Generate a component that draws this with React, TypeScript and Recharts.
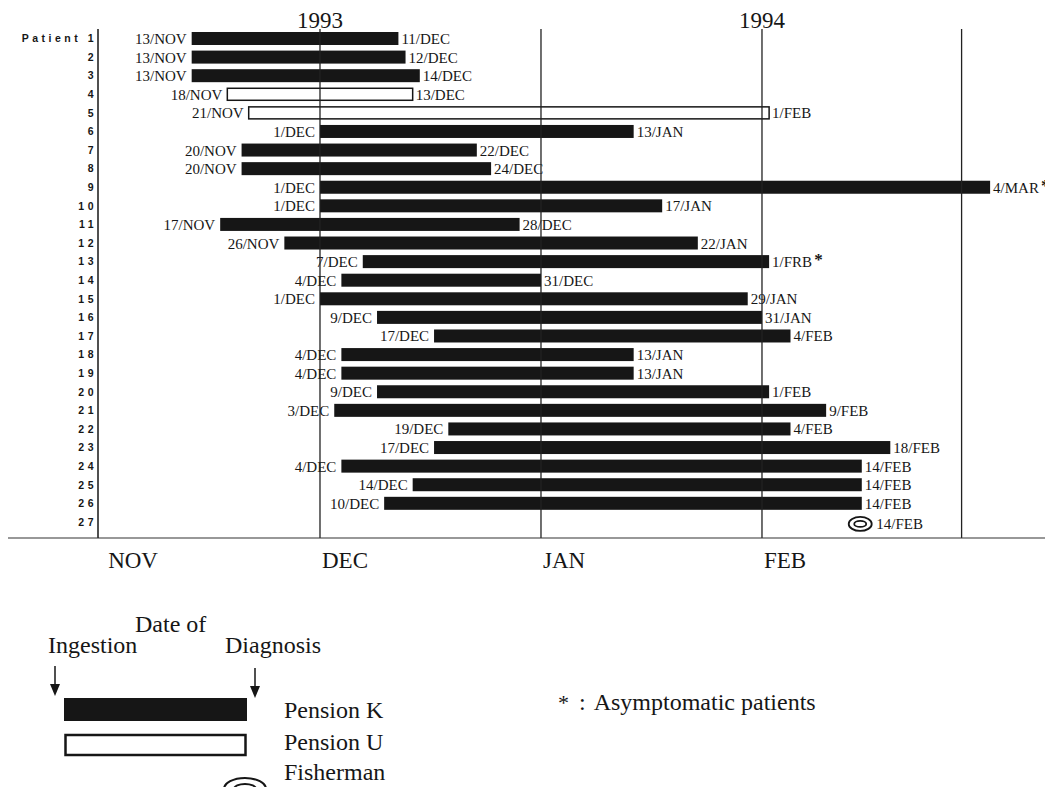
import React from 'react'
import { ComposedChart, Bar, XAxis, YAxis, ReferenceLine } from 'recharts'

// one entry per patient, top to bottom
const patientLabels = [
  'Patient 1', '2', '3', '4', '5', '6', '7', '8', '9', '10', '11', '12', '13', '14',
  '15', '16', '17', '18', '19', '20', '21', '22', '23', '24', '25', '26', '27',
]
const ingestionDates = [
  '13/NOV', '13/NOV', '13/NOV', '18/NOV', '21/NOV', '1/DEC', '20/NOV', '20/NOV', '1/DEC',
  '1/DEC', '17/NOV', '26/NOV', '7/DEC', '4/DEC', '1/DEC', '9/DEC', '17/DEC', '4/DEC',
  '4/DEC', '9/DEC', '3/DEC', '19/DEC', '17/DEC', '4/DEC', '14/DEC', '10/DEC', '14/FEB',
]
// printed as in the figure ("1/FRB" is a misprint for 1/FEB)
const diagnosisDates = [
  '11/DEC', '12/DEC', '14/DEC', '13/DEC', '1/FEB', '13/JAN', '22/DEC', '24/DEC', '4/MAR',
  '17/JAN', '28/DEC', '22/JAN', '1/FRB', '31/DEC', '29/JAN', '31/JAN', '4/FEB', '13/JAN',
  '13/JAN', '1/FEB', '9/FEB', '4/FEB', '18/FEB', '14/FEB', '14/FEB', '14/FEB', '14/FEB',
]
// K = Pension K, U = Pension U, F = Fisherman
const sources = [
  'K', 'K', 'K', 'U', 'U', 'K', 'K', 'K', 'K', 'K', 'K', 'K', 'K', 'K',
  'K', 'K', 'K', 'K', 'K', 'K', 'K', 'K', 'K', 'K', 'K', 'K', 'F',
]
const asymptomaticPatients = [9, 13]

const monthNames = ['NOV', 'DEC', 'JAN', 'FEB']
const monthStarts = ['1/NOV', '1/DEC', '1/JAN', '1/FEB', '1/MAR']
const yearLabels = ['1993', '1994']
const yearTickDates = ['1/DEC', '1/FEB']

// days counted from 1 Nov 1993
const monthOffset: Record<string, number> = { NOV: 0, DEC: 30, JAN: 61, FEB: 92, FRB: 92, MAR: 120 }
const dayIndex = (s: string) => {
  const [d, m] = s.split('/')
  return monthOffset[m] + Number(d) - 1
}

const data = patientLabels.map((patient, i) => ({
  patient,
  source: sources[i],
  start: ingestionDates[i],
  end: diagnosisDates[i],
  asym: asymptomaticPatients.includes(i + 1),
  range: [dayIndex(ingestionDates[i]), dayIndex(diagnosisDates[i]) + 1],
}))

const yearTicks = yearTickDates.map(dayIndex)
const monthTicks = monthStarts.map(dayIndex)

const serif = '"Liberation Serif", "Times New Roman", serif'
const ink = '#161616'

function PatientShape(props: any) {
  const { x, y, width, height, payload } = props
  const cy = y + height / 2
  const right = x + width
  const label = { fontFamily: serif, fontSize: 15, fill: ink }
  if (payload.source === 'F') {
    const cx = x + width / 2 + 2
    return (
      <g>
        <ellipse cx={cx} cy={cy + 2} rx={11.5} ry={7} fill="none" stroke={ink} strokeWidth={1.8} />
        <ellipse cx={cx} cy={cy + 2} rx={6} ry={3} fill="none" stroke={ink} strokeWidth={1.8} />
        <text x={cx + 16} y={cy + 7} {...label}>{payload.end}</text>
      </g>
    )
  }
  return (
    <g>
      {payload.source === 'K' ? (
        <rect x={x} y={y} width={width} height={height} fill={ink} />
      ) : (
        <rect x={x} y={y + 0.5} width={width} height={height - 1} fill="none" stroke={ink} strokeWidth={1.5} />
      )}
      <text x={x - 5} y={cy + 5.5} textAnchor="end" {...label}>{payload.start}</text>
      <text x={right + 3} y={cy + 5.5} {...label}>
        {payload.end}
        {payload.asym && (
          <tspan fontSize={17} fontWeight="bold" dx={2} dy={-2}>*</tspan>
        )}
      </text>
    </g>
  )
}

function PatientTick({ x, y, payload }: any) {
  return (
    <text
      x={x - 1}
      y={y + 4}
      textAnchor="end"
      fontFamily='"Liberation Sans", Arial, sans-serif'
      fontWeight="bold"
      fontSize={10.5}
      letterSpacing={3.5}
      fill={ink}
    >
      {payload.value}
    </text>
  )
}

function MonthTick({ x, y, index }: any) {
  if (index >= monthNames.length) return null
  return (
    <text x={x + 2} y={y + 30} fontFamily={serif} fontSize={23} fill={ink}>
      {monthNames[index]}
    </text>
  )
}

function YearTick({ x, y, index }: any) {
  return (
    <text x={x} y={y - 1} textAnchor="middle" fontFamily={serif} fontSize={23} fill={ink}>
      {yearLabels[index]}
    </text>
  )
}

function LegendOverlay() {
  const t = { fontFamily: serif, fontSize: 24, fill: ink }
  return (
    <svg
      width={1055}
      height={787}
      style={{ position: 'absolute', left: 0, top: 0, pointerEvents: 'none' }}
    >
      {/* base line continues left of the patient axis */}
      <line x1={8} y1={538} x2={98} y2={538} stroke="#333" strokeWidth={1.2} />

      <text x={135} y={632} {...t}>Date of</text>
      <text x={48} y={653} {...t}>Ingestion</text>
      <text x={225} y={653} {...t}>Diagnosis</text>

      <line x1={55} y1={666} x2={55} y2={688} stroke={ink} strokeWidth={1.5} />
      <polygon points="50,684 60,684 55,696" fill={ink} />
      <line x1={255} y1={668} x2={255} y2={690} stroke={ink} strokeWidth={1.5} />
      <polygon points="250,686 260,686 255,698" fill={ink} />

      <rect x={64} y={698} width={183} height={23} fill={ink} />
      <rect x={65.5} y={735} width={180} height={20} fill="#fff" stroke={ink} strokeWidth={2.5} />
      <ellipse cx={245} cy={789} rx={21} ry={11} fill="none" stroke={ink} strokeWidth={2} />
      <ellipse cx={245} cy={789} rx={11} ry={5} fill="none" stroke={ink} strokeWidth={2} />

      <text x={284} y={718} {...t}>Pension K</text>
      <text x={284} y={750} {...t}>Pension U</text>
      <text x={284} y={780} {...t}>Fisherman</text>

      <text x={558} y={710} {...t}>
        <tspan fontSize={22}>*</tspan>
        <tspan dx={10}>:</tspan>
        <tspan dx={8}>Asymptomatic patients</tspan>
      </text>
    </svg>
  )
}

export default function App() {
  return (
    <div style={{ position: 'absolute', left: 0, top: 0, width: 1055, height: 787, background: '#fff' }}>
      <ComposedChart
        width={1055}
        height={578}
        data={data}
        layout="vertical"
        margin={{ top: 0, right: 10, bottom: 0, left: 8 }}
        barSize={13}
      >
        <XAxis
          type="number"
          domain={[-1.14, 131.7]}
          allowDataOverflow
          ticks={monthTicks}
          tick={<MonthTick />}
          tickLine={false}
          tickSize={0}
          tickMargin={0}
          height={40}
          axisLine={{ stroke: '#333', strokeWidth: 1.2 }}
          interval={0}
        />
        <XAxis
          xAxisId="year"
          orientation="top"
          type="number"
          domain={[-1.14, 131.7]}
          allowDataOverflow
          ticks={yearTicks}
          tick={<YearTick />}
          tickLine={false}
          tickSize={0}
          tickMargin={0}
          axisLine={false}
          height={29}
          interval={0}
        />
        <YAxis
          type="category"
          dataKey="patient"
          width={90}
          interval={0}
          tick={<PatientTick />}
          tickLine={false}
          tickSize={0}
          tickMargin={0}
          padding={{ top: 0, bottom: 7 }}
          axisLine={{ stroke: ink, strokeWidth: 1.5 }}
        />
        {monthTicks.slice(1).map((d) => (
          <ReferenceLine key={d} x={d} stroke="#222" strokeWidth={1.3} />
        ))}
        <Bar dataKey="range" shape={<PatientShape />} isAnimationActive={false} />
      </ComposedChart>
      <LegendOverlay />
    </div>
  )
}
